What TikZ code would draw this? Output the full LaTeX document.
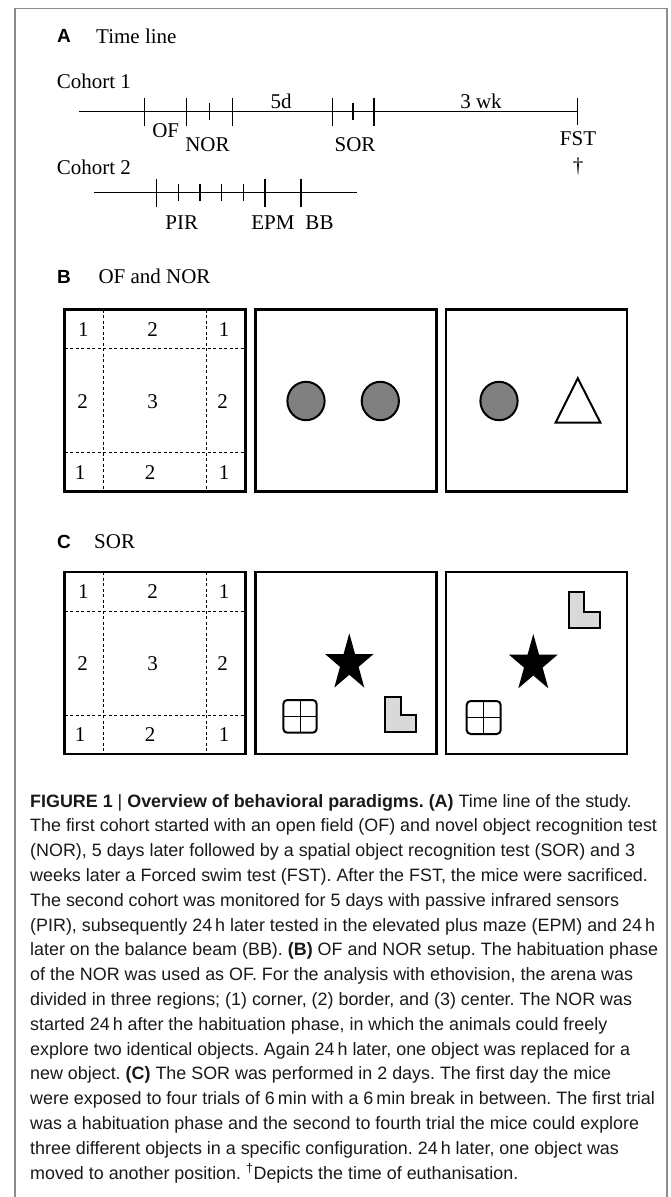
\documentclass[tikz,border=0pt]{standalone}
\usepackage{fontspec}
\setmainfont{Liberation Serif}
\newfontfamily\capfont{Liberation Sans}
\usetikzlibrary{positioning}

\tikzset{
    arena/.style={draw, line width=2.2pt},
    zone/.style={line width=0.8pt, dash pattern=on 3pt off 2.5pt},
    tline/.style={line width=1.4pt},
    tmark/.style={line width=1.3pt},
    tlabel/.style={font=\fontsize{21}{25}\selectfont, inner sep=0pt},
    panel/.style={font=\capfont\bfseries\fontsize{19}{22}\selectfont, inner sep=0pt},
    objline/.style={line width=2pt, line join=miter},
}

\begin{document}
\begin{tikzpicture}[x=1pt, y=1pt]
\useasboundingbox (0,0) rectangle (670,-1197);

% outer frame
\draw[black!45, line width=1.5pt] (15,-1197) -- (15,-8.3) -- (667,-8.3) -- (667,-1197);

% Panel A
\node[panel] (pa) at (64,-36){A};
\node[tlabel, anchor=west] (pat) at (96,-36){Time line};
\node[tlabel, anchor=west] (coha) at (56.7,-81){Cohort 1};
\node[tlabel, anchor=west] (cohb) at (56.7,-167.7){Cohort 2};

% Cohort 1 time line
\coordinate (las) at (79.3,-111.7);
\coordinate (lae) at (577.7,-111.7);
\draw[tline] (las) -- (lae);
\foreach \x/\h in {144.3/14, 186.7/14, 209.3/8.5, 232.3/14, 332.5/14, 353/8.5, 374/14, 577.7/13.5}
    \draw[tmark] (\x,{-111.7+\h}) -- (\x,{-111.7-\h});

\node[tlabel] (of)   at (165.7,-130.7){OF};
\node[tlabel] (nor)  at (207.5,-145){NOR};
\node[tlabel] (dfive) at (281,-101.7){5d};
\node[tlabel] (sor)  at (355,-145){SOR};
\node[tlabel] (wk)   at (481,-101.7){3 wk};
\node[tlabel] (fst)  at (578,-139){FST};
\node[tlabel] (dag)  at (578,-166){\dag};

% Cohort 2 time line
\coordinate (lbs) at (94,-192.7);
\coordinate (lbe) at (356.8,-192.7);
\draw[tline] (lbs) -- (lbe);
\foreach \x/\h in {156.7/14, 178.3/8.5, 200/8.5, 221.7/8.5, 243.3/8.5, 265/14, 301/14}
    \draw[tmark] (\x,{-192.7+\h}) -- (\x,{-192.7-\h});

\node[tlabel] (pir) at (181.7,-222.7){PIR};
\node[tlabel] (epm) at (273,-222.7){EPM};
\node[tlabel] (bb)  at (319.5,-222.7){BB};

% Panel B and C headers
\node[panel] (pb) at (64,-276.7){B};
\node[tlabel, anchor=west] (pbt) at (98.3,-276.7){OF and NOR};
\node[panel] (pc) at (64,-541.7){C};
\node[tlabel, anchor=west] (pct) at (94,-541.7){SOR};

% Zone arenas
\foreach \t/\n in {309.5/b, 572/c}{
    \draw[zone] (103.3,-\t) -- (103.3,{-\t-182});
    \draw[zone] (206.7,-\t) -- (206.7,{-\t-182});
    \draw[zone] (64.5,{-\t-39.3}) -- (245.5,{-\t-39.3});
    \draw[zone] (64.5,{-\t-143}) -- (245.5,{-\t-143});
    \draw[arena] (64.5,-\t) rectangle (245.5,{-\t-182});
    \draw[arena] (255.5,-\t) rectangle (436.5,{-\t-182});
    \draw[arena] (446,-\t) rectangle (627,{-\t-182});
    \node[tlabel] (\n z11) at (83.3,{-\t-20}){1};
    \node[tlabel] (\n z12) at (152.7,{-\t-20}){2};
    \node[tlabel] (\n z13) at (224,{-\t-20}){1};
    \node[tlabel] (\n z21) at (82.7,{-\t-92}){2};
    \node[tlabel] (\n z22) at (152.7,{-\t-92}){3};
    \node[tlabel] (\n z23) at (222.7,{-\t-92}){2};
    \node[tlabel] (\n z31) at (80,{-\t-163}){1};
    \node[tlabel] (\n z32) at (150,{-\t-163}){2};
    \node[tlabel] (\n z33) at (224,{-\t-163}){1};
}

% NOR objects
\draw[objline, fill=black!50] (306,-401) ellipse (18.6 and 19.2);
\draw[objline, fill=black!50] (380.3,-401) ellipse (18.6 and 19.2);
\draw[objline, fill=black!50] (499,-401) ellipse (18.6 and 19.2);
\draw[objline, fill=white] (577.8,-378.3) -- (555.6,-422.7) -- (600.4,-422.7) -- cycle;

% SOR objects, trial
\fill[shift={(349.3,-663.3)}, xscale=0.85] (90:30)
    \foreach \i in {1,...,9}{ -- ({90+36*\i}:{ifthenelse(mod(\i,2)==1,11.5,30)}) } -- cycle;
\draw[objline, rounded corners=4pt] (283.3,-700) rectangle (316.7,-732.7);
\draw[line width=1pt] (300,-700) -- (300,-732.7) (283.3,-716.4) -- (316.7,-716.4);
\draw[objline, fill=black!15] (385,-696.7) -- (400.7,-696.7) -- (400.7,-715) -- (415.7,-715)
    -- (415.7,-731.7) -- (385,-731.7) -- cycle;

% SOR objects, test
\fill[shift={(533.3,-664)}, xscale=0.85] (90:30)
    \foreach \i in {1,...,9}{ -- ({90+36*\i}:{ifthenelse(mod(\i,2)==1,11.5,30)}) } -- cycle;
\draw[objline, rounded corners=4pt] (466.7,-701) rectangle (500.7,-734);
\draw[line width=1pt] (483.7,-701) -- (483.7,-734) (466.7,-717.5) -- (500.7,-717.5);
\draw[objline, fill=black!15] (569,-592.3) -- (584.3,-592.3) -- (584.3,-611.7) -- (600.3,-611.7)
    -- (600.3,-627.7) -- (569,-627.7) -- cycle;

% Caption
\node[anchor=north west, inner sep=0pt, align=left, text=black!90,
      font=\capfont\frenchspacing\fontsize{17.9}{24.8}\selectfont] (cap) at (30,-794){%
\textbf{FIGURE 1 {\mdseries|} Overview of behavioral paradigms. (A)} Time line of the study.\\
The first cohort started with an open field (OF) and novel object recognition test\\
(NOR), 5 days later followed by a spatial object recognition test (SOR) and 3\\
weeks later a Forced swim test (FST). After the FST, the mice were sacrificed.\\
The second cohort was monitored for 5 days with passive infrared sensors\\
(PIR), subsequently 24\,h later tested in the elevated plus maze (EPM) and 24\,h\\
later on the balance beam (BB). \textbf{(B)} OF and NOR setup. The habituation phase\\
of the NOR was used as OF. For the analysis with ethovision, the arena was\\
divided in three regions; (1) corner, (2) border, and (3) center. The NOR was\\
started 24\,h after the habituation phase, in which the animals could freely\\
explore two identical objects. Again 24\,h later, one object was replaced for a\\
new object. \textbf{(C)} The SOR was performed in 2 days. The first day the mice\\
were exposed to four trials of 6\,min with a 6\,min break in between. The first trial\\
was a habituation phase and the second to fourth trial the mice could explore\\
three different objects in a specific configuration. 24\,h later, one object was\\
moved to another position. \textsuperscript{\dag}Depicts the time of euthanisation.};
\end{tikzpicture}
\end{document}
